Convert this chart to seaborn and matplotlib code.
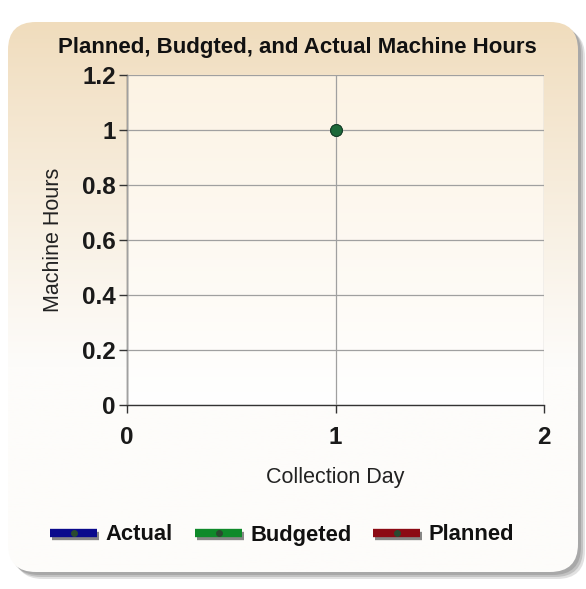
import numpy as np
import pandas as pd
import matplotlib
matplotlib.use("Agg")
import matplotlib.pyplot as plt
from matplotlib.patches import FancyBboxPatch
from matplotlib.lines import Line2D
import matplotlib.patheffects as pe
import seaborn as sns

# Data
series = ["Actual", "Planned", "Budgeted"]
days = [1, 1, 1]
hours = [1.0, 1.0, 1.0]
colors = {"Actual": "#0a0a8c", "Budgeted": "#0f8a2a", "Planned": "#8c0a14"}
legend_order = ["Actual", "Budgeted", "Planned"]
x_ticks = [0, 1, 2]
y_ticks = [0, 0.2, 0.4, 0.6, 0.8, 1, 1.2]
y_tick_labels = ["0", "0.2", "0.4", "0.6", "0.8", "1", "1.2"]

df = pd.DataFrame({"Series": series, "Collection Day": days, "Machine Hours": hours})

sns.set_theme(style="white")
plt.rcParams["font.family"] = ["Liberation Sans", "DejaVu Sans"]

W, H = 586, 589
fig = plt.figure(figsize=(W / 100, H / 100), dpi=100)
fig.patch.set_facecolor("white")

# Background panel with shadow and gradient
bg = fig.add_axes([0, 0, 1, 1])
bg.set_xlim(0, W)
bg.set_ylim(H, 0)
bg.axis("off")
for off, a in [(7, 0.25), (5, 0.35), (3, 0.45)]:
    bg.add_patch(FancyBboxPatch((8 + off, 22 + off), 570, 550, boxstyle="round,pad=0,rounding_size=28",
                                facecolor="#8a8a8a", edgecolor="none", alpha=a, zorder=0))
panel = FancyBboxPatch((8, 22), 570, 550, boxstyle="round,pad=0,rounding_size=28",
                       facecolor="none", edgecolor="none", zorder=1)
bg.add_patch(panel)
grad = np.linspace(0, 1, 256).reshape(-1, 1)
top = np.array([240, 220, 188]) / 255
bot = np.array([253, 252, 250]) / 255
mix = np.clip(grad * 1.6, 0, 1) ** 0.9
img = top[None, None, :] * (1 - mix[..., None]) + bot[None, None, :] * mix[..., None]
im = bg.imshow(img, extent=(8, 578, 572, 22), aspect="auto", zorder=1)
im.set_clip_path(panel)

# Legend drawn in the background axes (pixel coords), one row
legend_x = {"Actual": 50, "Budgeted": 195, "Planned": 373}
for k in legend_order:
    x0 = legend_x[k]
    ln = Line2D([x0, x0 + 47], [533, 533], color=colors[k], lw=6, solid_capstyle="butt", zorder=3)
    ln.set_path_effects([pe.SimpleLineShadow(offset=(1.5, -2), shadow_color="#555555", alpha=0.7),
                         pe.Normal()])
    bg.add_line(ln)
    bg.plot([x0 + 23.5], [533], "o", markersize=4, color="#2a4a30", zorder=4)
    bg.text(x0 + 55, 540.5, k, ha="left", va="baseline", fontsize=15.8,
            fontweight="bold", color="#111111", zorder=4)

# Plot axes
ax = fig.add_axes([127 / W, 1 - 405 / H, (544 - 127) / W, (405 - 75) / H])
ax.set_facecolor("none")
pg = np.linspace(0, 1, 256).reshape(-1, 1)
ptop = np.array([252, 243, 228]) / 255
pbot = np.array([255, 255, 255]) / 255
pimg = ptop[None, None, :] * (1 - pg[..., None]) + pbot[None, None, :] * pg[..., None]
ax.imshow(pimg, extent=(0, 2, 0, 1.2), aspect="auto", zorder=0, origin="upper")

for s in ["top", "right"]:
    ax.spines[s].set_visible(False)
for s in ["left", "bottom"]:
    ax.spines[s].set_color("#333333")
    ax.spines[s].set_linewidth(1.0)

ax.set_xlim(0, 2)
ax.set_ylim(0, 1.2)
ax.set_xticks(x_ticks)
ax.set_yticks(y_ticks)
ax.set_yticklabels(y_tick_labels)
ax.grid(True, color="#a0a0a0", linewidth=0.9, zorder=1)
ax.set_axisbelow(False)
ax.tick_params(axis="both", which="both", length=6, width=1, color="#333333",
               direction="out", left=True, bottom=True, labelsize=17.5)
ax.tick_params(axis="y", pad=2)
ax.tick_params(axis="x", pad=9)
for lab in ax.get_xticklabels() + ax.get_yticklabels():
    lab.set_fontweight("bold")
    lab.set_color("#1a1a1a")

sns.lineplot(data=df, x="Collection Day", y="Machine Hours", hue="Series",
             palette=colors, marker="o", markersize=8, linewidth=4,
             markeredgecolor="#1a4a2a", ax=ax, legend=False, zorder=4)
ax.plot([1], [1], "o", color="#1d6a3a", markersize=8.5, markeredgecolor="#173f2a",
        markeredgewidth=0.8, zorder=5)

ax.set_xlabel("Collection Day", fontsize=15.5, color="#222222", labelpad=13)
ax.set_ylabel("Machine Hours", fontsize=15.5, color="#222222", labelpad=13)

fig.text(297 / W, 1 - 48 / H, "Planned, Budgted, and Actual Machine Hours",
         ha="center", va="center", fontsize=16, fontweight="bold", color="#111111")

fig.savefig("out.png", dpi=100)
